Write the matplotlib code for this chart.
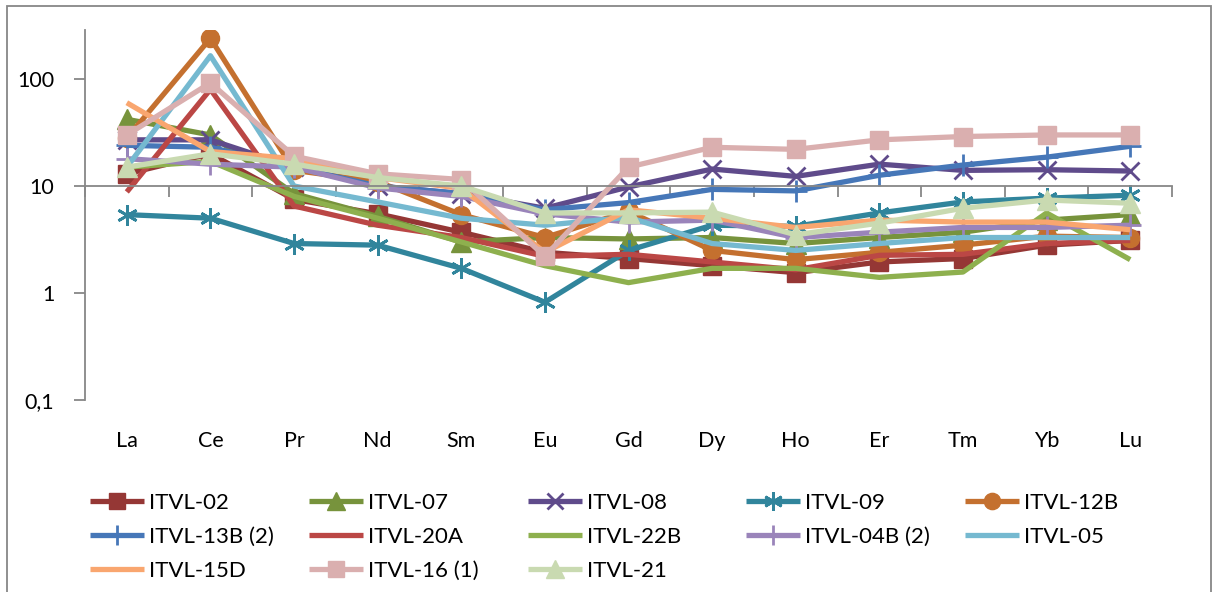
import numpy as np
import matplotlib
matplotlib.use('Agg')
import matplotlib.pyplot as plt
from matplotlib.patches import Rectangle

plt.rcParams['font.family'] = ['Lato', 'DejaVu Sans']

# Categories (REE) and series values
cats = ['La', 'Ce', 'Pr', 'Nd', 'Sm', 'Eu', 'Gd', 'Dy', 'Ho', 'Er', 'Tm', 'Yb', 'Lu']

itvl_02 = [13, 20, 7.5, 5.5, 3.7, 2.4, 2.1, 1.8, 1.55, 1.95, 2.1, 2.8, 3.1]
itvl_07 = [42, 30, 8.5, 5.2, 3.0, 3.3, 3.2, 3.3, 2.9, 3.3, 3.7, 4.8, 5.4]
itvl_08 = [27, 27, 15, 10, 8.5, 6.2, 9.8, 14.4, 12.3, 16, 14, 14.2, 13.8]
itvl_09 = [5.4, 5.0, 2.9, 2.8, 1.7, 0.82, 2.5, 4.3, 4.2, 5.6, 7.1, 7.7, 8.2]
itvl_12b = [28, 240, 14, 11, 5.4, 3.3, 5.8, 2.5, 2.05, 2.4, 2.8, 3.4, 3.3]
itvl_13b = [24, 23, 15, 10, 8.5, 6.0, 7.0, 9.3, 9.0, 12.6, 15.7, 18.6, 23.5]
itvl_20a = [8.8, 80, 6.5, 4.3, 3.3, 2.2, 2.3, 1.95, 1.65, 2.25, 2.3, 2.9, 3.1]
itvl_22b = [15, 17, 8, 5, 3.0, 1.8, 1.25, 1.7, 1.7, 1.4, 1.57, 5.6, 2.05]
itvl_04b = [18, 16, 15, 9.6, 8, 5.5, 4.6, 4.8, 3.3, 3.7, 4.1, 4.1, 4.3]
itvl_05 = [15, 165, 10, 7.1, 5.0, 4.3, 5.1, 2.9, 2.5, 2.9, 3.3, 3.3, 3.3]
itvl_15d = [60, 21, 18, 12, 9.5, 2.4, 6.0, 5.0, 4.1, 4.8, 4.6, 4.6, 3.9]
itvl_16 = [30, 92, 19, 13, 11.5, 2.2, 15, 23, 22, 27, 29, 30, 30]
itvl_21 = [15, 20, 16, 12, 10, 5.6, 5.6, 5.7, 3.5, 4.5, 6.2, 7.4, 6.9]

names = ['ITVL-02', 'ITVL-07', 'ITVL-08', 'ITVL-09', 'ITVL-12B',
         'ITVL-13B (2)', 'ITVL-20A', 'ITVL-22B', 'ITVL-04B (2)', 'ITVL-05',
         'ITVL-15D', 'ITVL-16 (1)', 'ITVL-21']
values = [itvl_02, itvl_07, itvl_08, itvl_09, itvl_12b,
          itvl_13b, itvl_20a, itvl_22b, itvl_04b, itvl_05,
          itvl_15d, itvl_16, itvl_21]

# style per series: color, marker, marker size, marker edge width
star = (6, 2, 0)
styles = [
    ('#953735', 's', 13, 1),
    ('#77933C', '^', 14, 1),
    ('#5F4B8B', 'x', 13, 2),
    ('#31859C', star, 15, 2),
    ('#C4702F', 'o', 13, 1),
    ('#4677B8', '+', 16, 2),
    ('#BB4745', None, 0, 0),
    ('#8EB04E', None, 0, 0),
    ('#9A84BA', '+', 16, 2),
    ('#75B9D0', None, 0, 0),
    ('#F9A66F', None, 0, 0),
    ('#DAAFAF', 's', 13, 1),
    ('#C9DAB1', '^', 14, 1),
]

W, H = 1218, 592
fig = plt.figure(figsize=(W / 100, H / 100), dpi=100)
ax = fig.add_axes([85 / W, 1 - 400 / H, (1172 - 85) / W, (400 - 30) / H])

x = np.arange(len(cats))
handles = []
for name, vals, (col, mk, ms, mew) in zip(names, values, styles):
    h, = ax.plot(x, vals, color=col, lw=3.8, marker=mk, markersize=ms,
                 markerfacecolor=col, markeredgecolor=col, markeredgewidth=mew,
                 solid_joinstyle='round', solid_capstyle='butt', label=name)
    handles.append(h)

ax.set_yscale('log')
ax.set_ylim(0.1, 10 ** (2 + 49 / 107))
ax.set_xlim(-0.5, len(cats) - 0.5)

axis_gray = '#878787'
ax.set_yticks([0.1, 1, 10, 100])
ax.set_yticklabels(['0,1', '1', '10', '100'])
ax.yaxis.set_minor_locator(matplotlib.ticker.NullLocator())
ax.tick_params(axis='y', length=8, width=1.3, color=axis_gray, pad=14,
               labelsize=15.5, labelcolor='black')

# horizontal axis crosses at 10, tick marks between categories
ax.spines['bottom'].set_position(('data', 10))
ax.spines['bottom'].set_color(axis_gray)
ax.spines['bottom'].set_linewidth(1.3)
ax.spines['left'].set_color(axis_gray)
ax.spines['left'].set_linewidth(1.3)
ax.spines['top'].set_visible(False)
ax.spines['right'].set_visible(False)
ax.set_xticks(np.arange(-0.5, len(cats), 1))
ax.set_xticklabels([])
ax.tick_params(axis='x', length=8, width=1.3, color=axis_gray)

# category labels below the plot area
sec = ax.secondary_xaxis('bottom')
sec.set_xticks(x)
sec.set_xticklabels(cats)
sec.tick_params(length=0, pad=22, labelsize=15.5)
sec.spines['bottom'].set_visible(False)

# legend: five columns at fixed positions, filled row by row
col_x = [90, 309, 528, 746, 965]
for j, cx in enumerate(col_x):
    hs = handles[j::5]
    fig.legend(handles=hs, labels=[h.get_label() for h in hs],
               loc='upper left', bbox_to_anchor=(cx / W, 1 - 493 / H),
               frameon=False, fontsize=16, handlelength=2.45,
               handletextpad=0.2, labelspacing=0.62, borderpad=0,
               borderaxespad=0, markerscale=0.9)

# outer chart border
fig.patches.append(Rectangle((7 / W, -0.02), (1211 - 7) / W, 1.02 - 6 / H,
                             transform=fig.transFigure, fill=False,
                             edgecolor=axis_gray, lw=1.3))

fig.savefig('out.png', dpi=100)
